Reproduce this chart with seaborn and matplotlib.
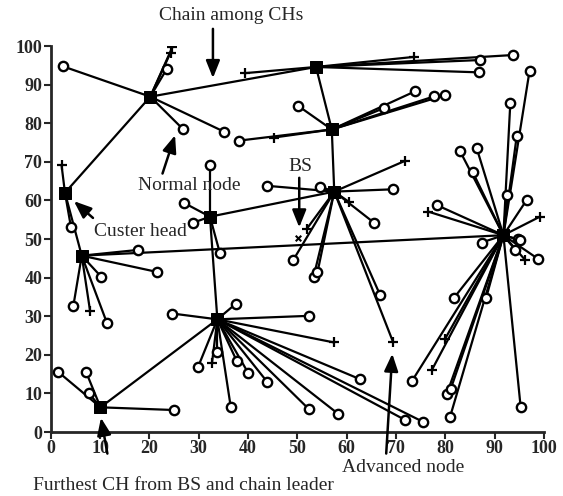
import numpy as np
import pandas as pd
import seaborn as sns
import matplotlib
matplotlib.use("Agg")
import matplotlib.pyplot as plt

# cluster heads (id: position)
ch_x = [20.2, 53.8, 57.0, 2.9, 32.3, 57.5, 6.3, 91.8, 33.8, 10.1]
ch_y = [86.9, 94.6, 78.4, 62.0, 55.8, 62.3, 45.7, 51.0, 29.2, 6.4]
# chain among CHs (order of CH ids)
chain_order = [9, 8, 4, 5, 2, 1, 0, 3, 6, 7]

# normal nodes and the CH each one joins
normal_x = [2.4, 23.5, 26.9, 35.2,
            93.8, 87.1, 86.9,
            50.2, 73.9, 77.8, 80.0, 67.5, 38.1,
            4.1,
            32.3, 27.0, 28.8, 34.3,
            43.9, 54.6, 65.6, 69.5, 49.2, 53.3, 54.1, 66.8,
            17.8, 21.5, 10.2, 4.6, 11.4,
            97.1, 93.2, 94.5, 92.5, 83.0, 86.4, 85.6, 96.5, 78.3, 94.8,
            87.4, 95.2, 94.2, 98.9, 81.8, 88.3, 73.3, 80.3, 81.1, 81.0, 95.3,
            37.6, 52.3, 33.8, 37.7, 40.1, 43.9, 36.5, 52.3, 58.3, 62.7,
            71.9, 75.4, 29.9, 24.7,
            1.5, 7.2, 7.8, 25.0]
normal_y = [94.8, 94.0, 78.4, 77.8,
            97.7, 96.4, 93.2,
            84.5, 88.3, 87.0, 87.3, 83.9, 75.5,
            53.2,
            69.2, 59.4, 54.2, 46.4,
            63.8, 63.6, 54.2, 62.9, 44.6, 40.2, 41.4, 35.5,
            47.2, 41.5, 40.3, 32.7, 28.3,
            93.6, 85.3, 76.7, 61.4, 72.8, 73.5, 67.3, 60.1, 58.8, 49.9,
            49.1, 49.7, 47.2, 44.8, 34.8, 34.8, 13.3, 9.8, 11.1, 4.0, 6.4,
            33.3, 30.1, 20.8, 18.5, 15.2, 13.0, 6.6, 6.0, 4.7, 13.7,
            3.1, 2.7, 16.9, 30.7,
            15.6, 15.5, 10.0, 5.7]
normal_ch = [0, 0, 0, 0,
             1, 1, 1,
             2, 2, 2, 2, 2, 2,
             3,
             4, 4, 4, 4,
             5, 5, 5, 5, 5, 5, 5, 5,
             6, 6, 6, 6, 6,
             7, 7, 7, 7, 7, 7, 7, 7, 7, 7,
             7, 7, 7, 7, 7, 7, 7, 7, 7, 7, 7,
             8, 8, 8, 8, 8, 8, 8, 8, 8, 8,
             8, 8, 8, 8,
             9, 9, 9, 9]

# advanced nodes and their CH
adv_x = [24.7, 24.3, 39.4, 73.6, 45.2, 2.2, 60.4, 71.9, 51.9, 69.4,
         8.0, 99.2, 76.6, 96.2, 80.0, 77.3, 57.5, 32.7]
adv_y = [99.8, 98.3, 93.0, 97.2, 76.3, 69.2, 59.7, 70.3, 52.6, 23.4,
         31.3, 55.8, 57.1, 44.6, 24.2, 16.1, 23.2, 17.8]
adv_ch = [0, 0, 1, 1, 2, 3, 5, 5, 5, 5,
          6, 7, 7, 7, 7, 7, 8, 8]

bs_x, bs_y = 50.2, 50.2

ch = pd.DataFrame({"x": ch_x, "y": ch_y})
normal = pd.DataFrame({"x": normal_x, "y": normal_y, "ch": normal_ch})
adv = pd.DataFrame({"x": adv_x, "y": adv_y, "ch": adv_ch})

# edges: node -> CH, and the chain
rows = []
k = 0
for df in (normal, adv):
    for _, r in df.iterrows():
        c = int(r["ch"])
        rows.append((k, r["x"], r["y"], 0))
        rows.append((k, ch_x[c], ch_y[c], 1))
        k += 1
for a, b in zip(chain_order[:-1], chain_order[1:]):
    rows.append((k, ch_x[a], ch_y[a], 0))
    rows.append((k, ch_x[b], ch_y[b], 1))
    k += 1
edges = pd.DataFrame(rows, columns=["edge", "x", "y", "end"])

sns.set_style("ticks")
plt.rcParams["font.family"] = ["Liberation Serif", "DejaVu Serif"]

fig = plt.figure(figsize=(5.63, 4.96), dpi=100)
ax = fig.add_axes([0.090, 0.129, 0.876, 0.778])

sns.lineplot(data=edges, x="x", y="y", units="edge", estimator=None, sort=False,
             color="black", lw=1.6, ax=ax, legend=False)
sns.scatterplot(data=normal, x="x", y="y", marker="o", s=45, facecolor="white",
                edgecolor="black", linewidth=1.7, ax=ax, zorder=3)
sns.scatterplot(data=adv, x="x", y="y", marker="+", s=50, color="black",
                linewidth=1.6, ax=ax, zorder=3)
sns.scatterplot(data=ch, x="x", y="y", marker="s", s=80, color="black",
                edgecolor="black", ax=ax, zorder=4)
ax.scatter([bs_x], [bs_y], marker="x", s=16, color="black", linewidth=1.5, zorder=4)

ax.set_xlim(0, 100)
ax.set_ylim(0, 100)
ax.set_xticks(np.arange(0, 101, 10))
ax.set_yticks(np.arange(0, 101, 10))
ax.set_xlabel("")
ax.set_ylabel("")
for s in ("top", "right"):
    ax.spines[s].set_visible(False)
for s in ("left", "bottom"):
    ax.spines[s].set_linewidth(2)
ax.tick_params(direction="out", length=5, width=1.5, labelsize=13, pad=1)
for t in ax.get_xticklabels() + ax.get_yticklabels():
    t.set_fontweight("bold")

arrow = dict(arrowstyle="-|>,head_length=0.75,head_width=0.3", color="black",
             lw=1.8, mutation_scale=14)
notes = [
    ("Chain among CHs", 36.6, 108.0, (32.9, 105.2), (32.9, 91.0)),
    ("Normal node", 28.1, 64.0, (22.5, 66.3), (25.4, 77.6)),
    ("Custer head", 18.3, 51.9, (9.0, 55.0), (4.3, 60.3)),
    ("BS", 50.6, 68.7, (50.4, 66.6), (50.4, 52.3)),
    ("Furthest CH from BS and chain leader", 26.9, -13.9, (11.6, -6.3), (10.1, 4.4)),
    ("Advanced node", 71.4, -9.3, (68.0, -6.3), (69.3, 21.0)),
]
for label, tx, ty, p0, p1 in notes:
    ax.text(tx, ty, label, ha="center", va="center", fontsize=14, clip_on=False)
    ax.annotate("", xy=p1, xytext=p0, arrowprops=arrow, annotation_clip=False)

fig.savefig("out.png", dpi=100)
